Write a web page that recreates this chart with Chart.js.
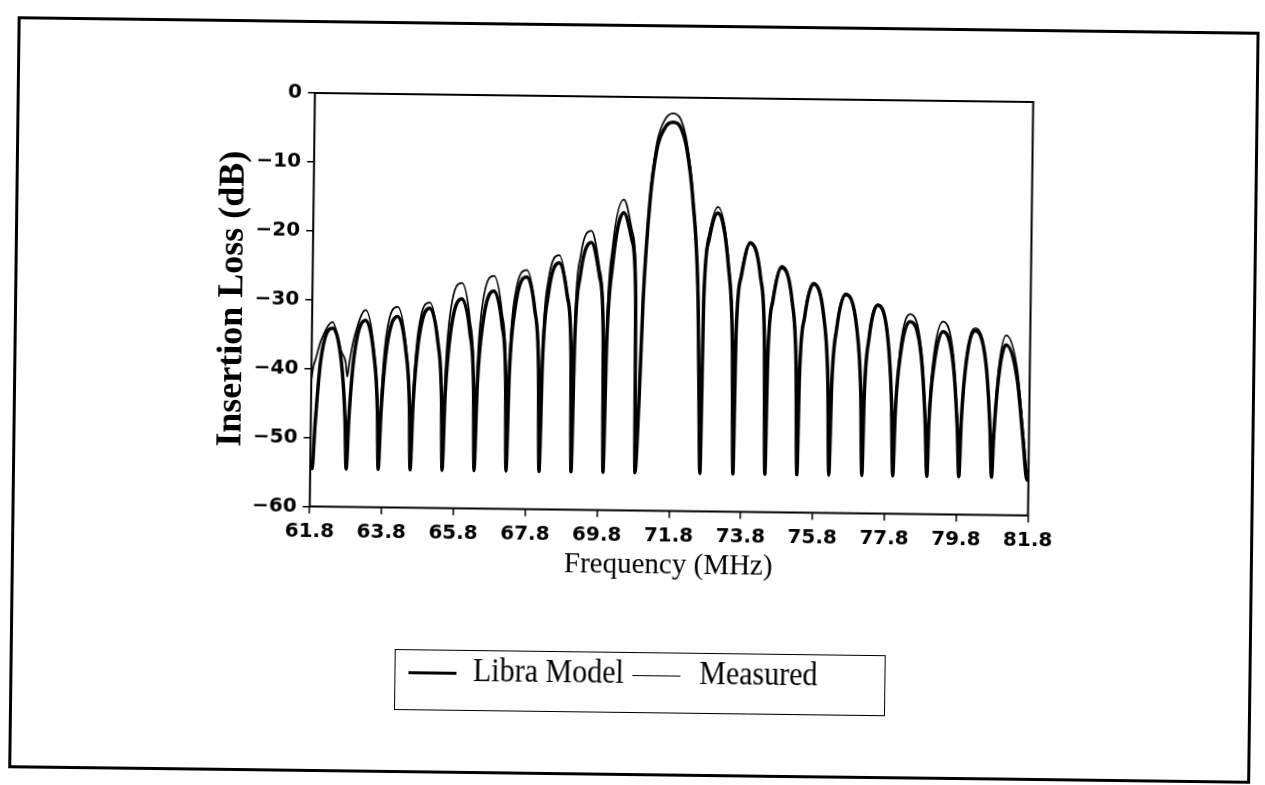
<!DOCTYPE html>
<html>
<head>
<meta charset="utf-8">
<title>Insertion Loss vs Frequency</title>
<script src="https://cdn.jsdelivr.net/npm/chart.js@4.4.1/dist/chart.umd.min.js"></script>
<style>
  html, body { margin: 0; padding: 0; background: #fff; overflow: hidden; }
  /* the scanned figure sits a little crooked, so the whole sheet is turned */
  #page {
    position: absolute; left: 0; top: 0; width: 1265px; height: 785px;
    transform: rotate(0.72deg); transform-origin: 632.5px 392.5px;
  }
  #frame {
    position: absolute; left: 13px; top: 24px; width: 1242px; height: 752px;
    border: 3px solid #000; box-sizing: border-box;
  }
  #chart { position: absolute; left: 0; top: 0; }
  #legend {
    position: absolute; left: 397.5px; top: 651.5px; width: 491.5px; height: 61px;
    border: 1.5px solid #000; box-sizing: border-box;
    display: flex; align-items: center; padding: 0 0 20px 13px;
    font: 30px "Liberation Serif", serif; color: #000; white-space: nowrap;
  }
  #legend .swatch { display: inline-block; width: 48px; border-top: 0 solid #000; margin-top: 6px; }
  #legend .text { display: inline-block; transform: scaleY(1.1); }
</style>
</head>
<body>
<div id="page">
  <div id="frame"></div>
  <canvas id="chart" width="1265" height="785"></canvas>
  <div id="legend"></div>
</div>
<script>
"use strict";

// Frequency samples (MHz), shared by both traces; one row per side lobe + its right null
const freqs = [
  61.80, 61.85,
  61.92, 62.05, 62.37, 62.63, 62.75, 62.80,
  62.86, 62.99, 63.29, 63.53, 63.65, 63.69,
  63.75, 63.88, 64.18, 64.42, 64.54, 64.58,
  64.64, 64.77, 65.07, 65.31, 65.43, 65.47,
  65.53, 65.66, 65.96, 66.20, 66.32, 66.36,
  66.42, 66.55, 66.85, 67.09, 67.21, 67.25,
  67.31, 67.44, 67.76, 68.00, 68.12, 68.17,
  68.23, 68.36, 68.66, 68.90, 69.02, 69.06,
  69.12, 69.25, 69.55, 69.79, 69.91, 69.95,
  70.01, 70.14, 70.44, 70.68, 70.80, 70.84,
  70.93, 71.01, 71.17, 71.34, 71.56, 71.78, 72.00, 72.18, 72.36, 72.54, 72.60, 72.65,
  72.70, 72.82, 73.06, 73.38, 73.51, 73.57,
  73.61, 73.73, 73.97, 74.27, 74.40, 74.46,
  74.50, 74.62, 74.86, 75.16, 75.29, 75.35,
  75.39, 75.51, 75.75, 76.05, 76.18, 76.24,
  76.29, 76.41, 76.65, 76.97, 77.10, 77.16,
  77.20, 77.31, 77.55, 77.84, 77.96, 78.02,
  78.07, 78.19, 78.45, 78.77, 78.90, 78.97,
  79.01, 79.13, 79.37, 79.67, 79.80, 79.86,
  79.91, 80.02, 80.27, 80.58, 80.71, 80.77,
  80.82, 80.93, 81.13, 81.45, 81.64, 81.74,
  81.80,
];

// Libra model insertion loss (dB)
const libraLoss = [
  -54.5, -54.5,
  -48.1, -39.0, -34.1, -39.0, -47.1, -54.5,
  -46.9, -37.8, -32.9, -37.8, -45.9, -54.5,
  -46.3, -37.2, -32.3, -37.2, -45.3, -54.5,
  -45.0, -35.9, -31.0, -35.9, -44.0, -54.5,
  -43.6, -34.5, -29.6, -34.5, -42.6, -54.5,
  -42.4, -33.3, -28.4, -33.3, -41.4, -54.5,
  -40.3, -31.2, -26.3, -31.2, -39.3, -54.5,
  -38.2, -29.1, -24.2, -29.1, -37.2, -54.5,
  -35.2, -26.1, -21.2, -26.1, -34.2, -54.5,
  -35.8, -24.8, -16.8, -20.8, -28.8, -54.5,
  -44.0, -29.4, -14.9, -7.6, -4.4, -3.6, -4.4, -7.6, -14.8, -29.3, -43.9, -54.5,
  -28.7, -20.7, -16.7, -24.7, -35.7, -54.5,
  -34.0, -25.9, -21.0, -25.9, -35.0, -54.5,
  -37.5, -29.4, -24.5, -29.4, -38.5, -54.5,
  -39.8, -31.7, -26.8, -31.7, -40.8, -54.5,
  -41.3, -33.2, -28.3, -33.2, -42.3, -54.5,
  -42.8, -34.7, -29.8, -34.7, -43.8, -54.5,
  -45.1, -37.0, -32.1, -37.0, -46.1, -54.5,
  -46.5, -38.4, -33.5, -38.4, -47.5, -54.5,
  -46.3, -38.2, -33.3, -38.2, -47.3, -54.5,
  -48.3, -40.2, -35.3, -40.2, -49.3, -54.5,
  -55.0,
];

// Measured insertion loss (dB)
const measuredLoss = [
  -41.6, -39.8,
  -38.5, -36.0, -33.2, -37.5, -39.0, -41.1,
  -38.8, -35.2, -31.4, -36.9, -44.9, -53.0,
  -43.9, -34.7, -30.9, -36.4, -44.4, -53.0,
  -43.2, -34.0, -30.2, -35.7, -43.7, -53.0,
  -40.3, -31.1, -27.3, -32.8, -40.8, -53.0,
  -39.2, -30.0, -26.2, -31.7, -39.7, -53.0,
  -38.3, -29.1, -25.3, -30.8, -38.8, -53.0,
  -36.1, -26.9, -23.1, -28.6, -36.6, -53.0,
  -32.5, -23.3, -19.5, -25.0, -33.0, -53.0,
  -32.9, -21.9, -14.9, -19.4, -27.4, -54.5,
  -43.0, -28.6, -14.0, -6.6, -3.2, -2.3, -3.2, -6.6, -14.0, -28.5, -43.0, -54.5,
  -27.8, -19.8, -15.8, -23.8, -34.8, -53.0,
  -33.8, -25.4, -20.8, -25.8, -34.8, -53.0,
  -37.2, -28.8, -24.2, -29.2, -38.2, -53.0,
  -39.6, -31.2, -26.6, -31.6, -40.6, -53.0,
  -41.1, -32.7, -28.1, -33.1, -42.1, -53.0,
  -42.6, -34.2, -29.6, -34.6, -43.6, -47.0,
  -44.0, -35.6, -31.0, -36.0, -45.0, -53.0,
  -45.0, -36.6, -32.0, -37.0, -46.0, -50.0,
  -45.9, -37.5, -32.9, -37.9, -46.9, -49.5,
  -46.9, -38.8, -33.9, -38.8, -47.9, -53.0,
  -54.0,
];

// Axis ticks
const xTickValues = [61.8, 63.8, 65.8, 67.8, 69.8, 71.8, 73.8, 75.8, 77.8, 79.8, 81.8];
const yTickValues = [-60, -50, -40, -30, -20, -10, 0];

const seriesLabels = ["Libra Model", "Measured"];
const seriesWidths = [3.5, 1.7];

/**
 * Pair x and y arrays into Chart.js points
 */
function toPoints(xs, ys) {
  return xs.map((x, i) => ({ x, y: ys[i] }));
}

/**
 * Box around the plotting area (all four sides)
 */
const plotFrame = {
  id: "plotFrame",
  afterDraw(chart) {
    const { ctx, chartArea } = chart;
    ctx.save();
    ctx.strokeStyle = "#000";
    ctx.lineWidth = 2;
    ctx.strokeRect(
      chartArea.left,
      chartArea.top,
      chartArea.right - chartArea.left,
      chartArea.bottom - chartArea.top,
    );
    ctx.restore();
  },
};

/**
 * Boxed legend under the chart, one line sample per dataset
 */
function buildLegend(chart) {
  const box = document.getElementById("legend");
  const gaps = [[17, 8.5], [19, 0]];
  chart.data.datasets.forEach((ds, i) => {
    const swatch = document.createElement("span");
    swatch.className = "swatch";
    swatch.style.borderTopWidth = ds.borderWidth + "px";
    swatch.style.marginRight = gaps[i][0] + "px";
    const text = document.createElement("span");
    text.className = "text";
    text.textContent = ds.label;
    text.style.marginRight = gaps[i][1] + "px";
    box.appendChild(swatch);
    box.appendChild(text);
  });
}

const tickFont = { family: "DejaVu Sans", weight: "bold", size: 20 };
const axisGrid = {
  drawOnChartArea: false,
  drawTicks: true,
  tickLength: 7,
  color: "#000",
  lineWidth: 1.5,
};

const chart = new Chart(document.getElementById("chart"), {
  type: "line",
  data: {
    datasets: [
      {
        label: seriesLabels[0],
        data: toPoints(freqs, libraLoss),
        borderColor: "#000",
        borderWidth: seriesWidths[0],
        pointRadius: 0,
        cubicInterpolationMode: "monotone",
        fill: false,
      },
      {
        label: seriesLabels[1],
        data: toPoints(freqs, measuredLoss),
        borderColor: "#000",
        borderWidth: seriesWidths[1],
        pointRadius: 0,
        cubicInterpolationMode: "monotone",
        fill: false,
      },
    ],
  },
  options: {
    responsive: false,
    animation: false,
    devicePixelRatio: 1,
    events: [],
    layout: { padding: { left: 210, top: 97, right: 235.5, bottom: 202 } },
    plugins: {
      legend: { display: false },
      tooltip: { enabled: false },
    },
    scales: {
      x: {
        type: "linear",
        min: 61.8,
        max: 81.8,
        afterBuildTicks: (s) => {
          s.ticks = xTickValues.map((v) => ({ value: v }));
        },
        afterFit: (s) => {
          s.height = 72.5;
        },
        grid: axisGrid,
        border: { display: false },
        ticks: {
          color: "#000",
          font: tickFont,
          padding: 6,
          maxRotation: 0,
          autoSkip: false,
          callback: (v) => Number(v).toFixed(1),
        },
        title: {
          display: true,
          text: "Frequency (MHz)",
          color: "#000",
          font: { family: "Liberation Serif", size: 29 },
          padding: 0,
        },
      },
      y: {
        min: -60,
        max: 0,
        afterBuildTicks: (s) => {
          s.ticks = yTickValues.map((v) => ({ value: v }));
        },
        afterFit: (s) => {
          s.width = 101.2;
        },
        grid: axisGrid,
        border: { display: false },
        ticks: {
          color: "#000",
          font: tickFont,
          padding: 6,
          callback: (v) => (v < 0 ? "\u2212" + -v : String(v)),
        },
        title: {
          display: true,
          text: "Insertion Loss (dB)",
          color: "#000",
          font: { family: "Liberation Serif", weight: "bold", size: 36 },
          padding: 0,
        },
      },
    },
  },
  plugins: [plotFrame],
});

buildLegend(chart);
</script>
</body>
</html>
